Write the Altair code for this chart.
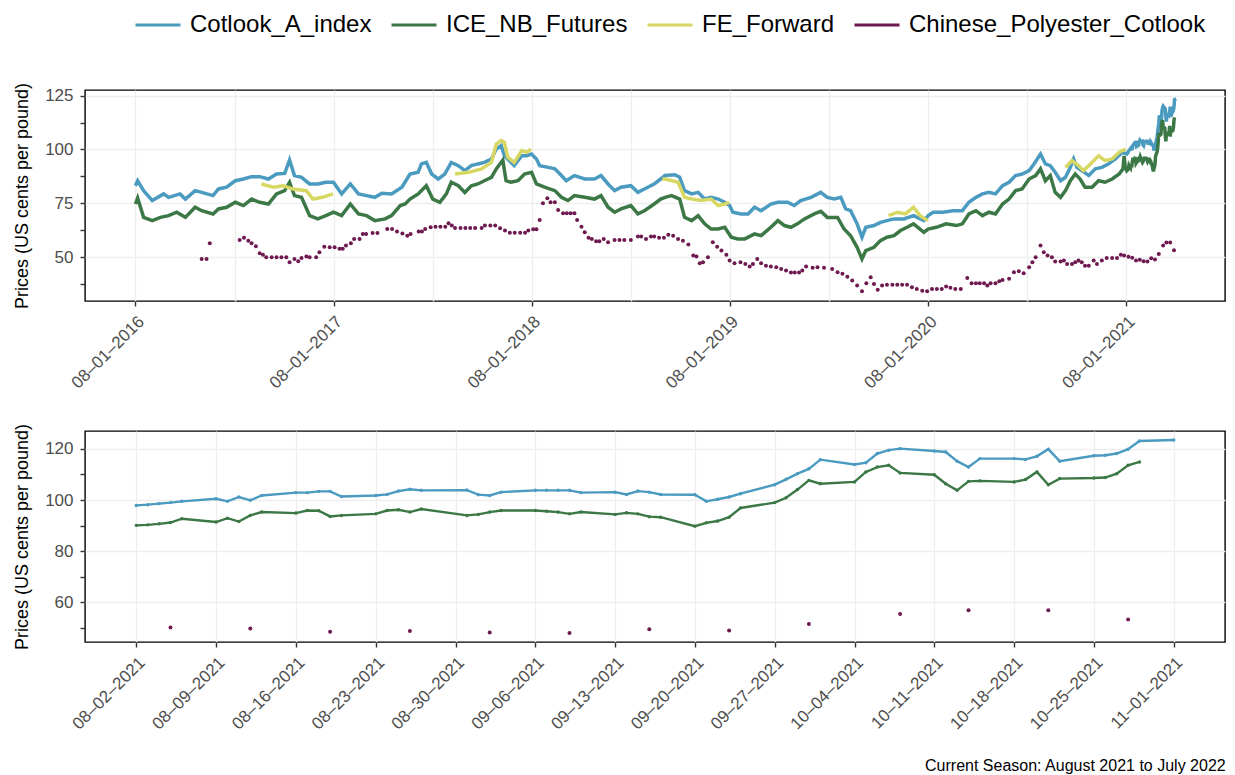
import altair as alt
import pandas as pd

FONT = "Liberation Sans"
SERIES = ["Cotlook_A_index", "ICE_NB_Futures", "FE_Forward", "Chinese_Polyester_Cotlook"]
COLORS = ["#4B9AC0", "#3C7846", "#D7D764", "#6E1950"]
Y_TITLE = "Prices (US cents per pound)"
CAPTION = "Current Season: August 2021 to July 2022"

# ---------------- long-run history ----------------
cotlook_hist_dates = [
    "2016-08-01", "2016-08-05", "2016-08-16", "2016-09-01", "2016-09-22", "2016-10-01",
    "2016-10-22", "2016-11-01", "2016-11-19", "2016-12-01", "2016-12-22", "2017-01-01",
    "2017-01-16", "2017-02-01", "2017-02-16", "2017-03-03", "2017-03-18", "2017-04-03",
    "2017-04-18", "2017-05-03", "2017-05-12", "2017-05-21", "2017-06-03", "2017-06-18",
    "2017-07-03", "2017-07-18", "2017-08-01", "2017-08-16", "2017-09-01", "2017-09-16",
    "2017-10-01", "2017-10-16", "2017-10-29", "2017-11-16", "2017-12-05", "2017-12-20",
    "2018-01-04", "2018-01-10", "2018-01-19", "2018-01-29", "2018-02-10", "2018-02-22",
    "2018-03-06", "2018-03-19", "2018-03-31", "2018-04-12", "2018-04-24", "2018-05-06",
    "2018-05-19", "2018-05-28", "2018-06-06", "2018-06-12", "2018-06-18", "2018-06-30",
    "2018-07-14", "2018-07-23", "2018-08-01", "2018-08-10", "2018-08-16", "2018-09-01",
    "2018-09-13", "2018-09-25", "2018-10-04", "2018-10-19", "2018-11-07", "2018-11-25",
    "2018-12-07", "2018-12-20", "2019-01-01", "2019-01-13", "2019-01-31", "2019-02-13",
    "2019-02-25", "2019-03-15", "2019-03-27", "2019-04-04", "2019-04-22", "2019-05-01",
    "2019-05-10", "2019-05-23", "2019-06-04", "2019-06-16", "2019-06-28", "2019-07-11",
    "2019-07-23", "2019-08-01", "2019-08-07", "2019-08-22", "2019-09-04", "2019-09-16",
    "2019-09-28", "2019-10-16", "2019-10-29", "2019-11-16", "2019-11-28", "2019-12-10",
    "2019-12-29", "2020-01-16", "2020-01-28", "2020-02-10", "2020-02-22", "2020-03-02",
    "2020-03-11", "2020-03-23", "2020-04-01", "2020-04-08", "2020-04-23", "2020-05-05",
    "2020-05-17", "2020-05-30", "2020-06-17", "2020-07-05", "2020-07-24", "2020-08-01",
    "2020-08-10", "2020-08-28", "2020-09-16", "2020-10-03", "2020-10-15", "2020-10-28",
    "2020-11-09", "2020-11-21", "2020-12-03", "2020-12-16", "2020-12-28", "2021-01-09",
    "2021-01-21", "2021-02-03", "2021-02-12", "2021-02-24", "2021-03-05", "2021-03-14",
    "2021-03-23", "2021-04-02", "2021-04-11", "2021-04-20", "2021-04-26", "2021-05-02",
    "2021-05-11", "2021-05-24", "2021-06-05", "2021-06-17", "2021-06-29", "2021-07-12",
    "2021-07-25",
]
cotlook_hist_values = [
    83.2, 85.5, 80.9, 76.3, 79.4, 77.8,
    79.4, 77.0, 80.9, 80.1, 78.6, 81.7,
    82.5, 85.5, 86.3, 87.4, 87.4, 86.3,
    88.6, 88.9, 95.1, 87.9, 87.1, 84.0,
    84.0, 84.8, 84.8, 79.4, 84.0, 79.4,
    78.6, 77.8, 79.7, 79.4, 82.5, 88.6,
    89.4, 93.3, 94.0, 88.6, 86.3, 88.6,
    94.0, 92.5, 90.2, 92.5, 93.3, 94.0,
    95.6, 100.2, 101.8, 97.1, 95.6, 92.5,
    97.1, 97.1, 97.9, 95.6, 92.5, 91.7,
    91.0, 87.9, 85.5, 87.9, 86.3, 86.3,
    87.9, 84.0, 80.9, 82.5, 83.2, 80.1,
    81.7, 84.0, 86.3, 87.9, 88.3, 87.1,
    80.9, 79.4, 80.1, 77.0, 77.8, 77.0,
    75.5, 74.0, 70.9, 70.1, 70.1, 73.2,
    71.6, 74.7, 75.5, 75.5, 74.0, 76.3,
    77.8, 80.1, 77.8, 77.0, 77.8, 72.4,
    71.6, 65.5, 59.3, 63.9, 64.7, 66.2,
    67.0, 67.8, 67.8, 69.3, 67.0, 69.3,
    70.9, 70.9, 71.6, 71.6, 75.5, 77.8,
    79.4, 80.1, 79.4, 83.2, 84.8, 87.9,
    88.6, 90.2, 93.3, 97.9, 93.3, 92.5,
    89.4, 85.5, 87.1, 91.7, 95.6, 91.7,
    90.2, 87.9, 91.0, 91.7, 93.3, 95.6,
    98.7,
]

ice_hist_dates = [
    "2016-08-01", "2016-08-05", "2016-08-16", "2016-09-01", "2016-09-16", "2016-10-01",
    "2016-10-16", "2016-11-01", "2016-11-19", "2016-12-01", "2016-12-22", "2017-01-01",
    "2017-01-16", "2017-02-01", "2017-02-16", "2017-03-03", "2017-03-18", "2017-04-03",
    "2017-04-18", "2017-05-03", "2017-05-12", "2017-05-21", "2017-06-03", "2017-06-18",
    "2017-07-03", "2017-07-18", "2017-08-01", "2017-08-16", "2017-09-01", "2017-09-16",
    "2017-10-01", "2017-10-16", "2017-11-04", "2017-11-16", "2017-12-02", "2017-12-11",
    "2017-12-20", "2018-01-04", "2018-01-19", "2018-01-31", "2018-02-13", "2018-02-25",
    "2018-03-06", "2018-03-19", "2018-03-31", "2018-04-12", "2018-04-24", "2018-05-06",
    "2018-05-19", "2018-05-28", "2018-06-09", "2018-06-15", "2018-06-24", "2018-07-07",
    "2018-07-19", "2018-08-01", "2018-08-10", "2018-08-25", "2018-09-13", "2018-09-25",
    "2018-10-07", "2018-10-19", "2018-11-07", "2018-11-25", "2018-12-07", "2018-12-20",
    "2019-01-01", "2019-01-13", "2019-01-31", "2019-02-13", "2019-02-25", "2019-03-15",
    "2019-03-27", "2019-04-04", "2019-04-16", "2019-05-01", "2019-05-10", "2019-05-23",
    "2019-06-04", "2019-06-16", "2019-06-28", "2019-07-11", "2019-07-23", "2019-08-04",
    "2019-08-16", "2019-08-29", "2019-09-16", "2019-09-28", "2019-10-16", "2019-10-29",
    "2019-11-10", "2019-11-22", "2019-12-04", "2019-12-17", "2020-01-04", "2020-01-16",
    "2020-01-28", "2020-02-16", "2020-02-28", "2020-03-11", "2020-03-23", "2020-04-01",
    "2020-04-08", "2020-04-23", "2020-05-05", "2020-05-17", "2020-05-30", "2020-06-11",
    "2020-06-23", "2020-07-05", "2020-07-24", "2020-08-01", "2020-08-16", "2020-09-03",
    "2020-09-22", "2020-10-03", "2020-10-15", "2020-10-28", "2020-11-09", "2020-11-21",
    "2020-12-03", "2020-12-16", "2020-12-28", "2021-01-09", "2021-01-21", "2021-02-03",
    "2021-02-15", "2021-02-24", "2021-03-05", "2021-03-14", "2021-03-23", "2021-04-02",
    "2021-04-11", "2021-04-20", "2021-04-29", "2021-05-08", "2021-05-17", "2021-05-30",
    "2021-06-11", "2021-06-23", "2021-07-06", "2021-07-19", "2021-07-26", "2021-07-28",
    "2021-07-30",
]
ice_hist_values = [
    74.7, 77.5, 68.5, 67.0, 68.5, 69.3,
    70.9, 68.5, 73.2, 71.6, 70.1, 72.4,
    73.2, 75.5, 74.0, 77.0, 75.5, 74.7,
    79.4, 80.9, 84.8, 78.6, 77.8, 69.3,
    67.8, 69.3, 70.9, 69.3, 74.7, 70.1,
    69.3, 67.0, 67.8, 69.3, 74.0, 74.7,
    77.0, 79.4, 83.2, 77.0, 75.5, 79.4,
    84.8, 83.2, 80.1, 83.2, 84.0, 85.5,
    87.1, 91.0, 95.1, 85.5, 84.8, 85.5,
    88.6, 89.4, 84.0, 82.5, 80.9, 77.8,
    76.3, 78.6, 77.8, 77.0, 78.6, 73.2,
    70.9, 72.4, 74.0, 70.1, 71.6, 74.7,
    77.0, 77.8, 78.6, 77.0, 68.5, 67.0,
    69.3, 65.5, 63.1, 63.1, 63.9, 59.3,
    58.5, 58.5, 60.8, 60.0, 63.9, 67.0,
    64.7, 63.9, 65.5, 67.8, 70.1, 71.3,
    68.5, 68.5, 63.1, 60.0, 54.6, 49.2,
    53.1, 54.6, 57.7, 59.3, 60.0, 62.4,
    63.9, 65.5, 61.6, 63.1, 63.9, 65.5,
    64.7, 65.5, 70.1, 71.6, 69.3, 70.9,
    70.1, 74.7, 77.0, 80.9, 81.7, 86.3,
    87.9, 91.0, 85.5, 87.9, 80.1, 77.8,
    80.9, 85.5, 88.6, 86.3, 82.5, 82.5,
    85.5, 84.8, 86.3, 88.6, 91.0, 97.0,
    92.0,
]

fe_season = (["2017"] * 8 + ["2018"] * 12 + ["2019"] * 10 + ["2020"] * 6 + ["2021"] * 10)
fe_dates = [
    "2017-03-21", "2017-04-12", "2017-04-30", "2017-05-18", "2017-06-12", "2017-06-24",
    "2017-07-12", "2017-07-31",
    "2018-03-13", "2018-04-07", "2018-05-01", "2018-05-19", "2018-05-28", "2018-06-06",
    "2018-06-12", "2018-06-18", "2018-06-30", "2018-07-14", "2018-07-23", "2018-07-31",
    "2019-03-30", "2019-04-04", "2019-04-28", "2019-05-10", "2019-05-23", "2019-06-10",
    "2019-06-28", "2019-07-11", "2019-07-23", "2019-07-31",
    "2020-05-20", "2020-06-05", "2020-06-20", "2020-07-05", "2020-07-17", "2020-07-31",
    "2021-04-11", "2021-04-23", "2021-05-05", "2021-05-14", "2021-05-27", "2021-06-11",
    "2021-06-23", "2021-07-06", "2021-07-19", "2021-07-31",
]
fe_values = [
    84.0, 82.5, 83.2, 81.7, 80.9, 77.0, 77.8, 79.4,
    88.6, 89.4, 91.0, 94.0, 102.5, 104.1, 103.3, 96.4, 94.0, 99.5, 98.7, 100.2,
    86.3, 86.3, 84.8, 77.8, 77.0, 76.3, 77.0, 74.0, 74.7, 75.5,
    69.3, 70.9, 70.1, 73.2, 69.3, 67.0,
    91.7, 94.8, 92.5, 90.2, 93.3, 97.1, 94.8, 95.6, 98.7, 100.2,
]

poly_hist_dates = [
    "2016-12-01", "2016-12-10", "2016-12-16", "2017-02-09", "2017-02-17", "2017-02-25",
    "2017-03-03", "2017-03-11", "2017-03-18", "2017-03-24", "2017-03-30", "2017-04-09",
    "2017-04-18", "2017-04-27", "2017-05-06", "2017-05-12", "2017-05-21", "2017-05-28",
    "2017-06-03", "2017-06-12", "2017-06-18", "2017-06-30", "2017-07-06", "2017-07-15",
    "2017-07-25", "2017-08-03", "2017-08-12", "2017-08-18", "2017-08-24", "2017-09-02",
    "2017-09-08", "2017-09-18", "2017-09-24", "2017-09-30", "2017-10-12", "2017-10-21",
    "2017-11-08", "2017-11-17", "2017-11-26", "2017-12-06", "2017-12-15", "2017-12-21",
    "2018-01-05", "2018-01-11", "2018-01-17", "2018-01-27", "2018-02-05", "2018-02-14",
    "2018-02-23", "2018-03-01", "2018-03-07", "2018-03-13", "2018-03-23", "2018-04-01",
    "2018-04-10", "2018-04-19", "2018-05-01", "2018-05-07", "2018-05-17", "2018-05-26",
    "2018-06-04", "2018-06-13", "2018-06-22", "2018-07-01", "2018-07-11", "2018-07-20",
    "2018-07-26", "2018-08-04", "2018-08-10", "2018-08-16", "2018-08-22", "2018-08-30",
    "2018-09-05", "2018-09-13", "2018-09-19", "2018-09-28", "2018-10-05", "2018-10-12",
    "2018-10-19", "2018-10-24", "2018-11-01", "2018-11-07", "2018-11-14", "2018-11-20",
    "2018-11-28", "2018-12-04", "2018-12-12", "2018-12-20", "2019-01-01", "2019-01-10",
    "2019-01-19", "2019-01-31", "2019-02-13", "2019-02-19", "2019-02-28", "2019-03-09",
    "2019-03-15", "2019-03-24", "2019-04-02", "2019-04-10", "2019-04-19", "2019-04-28",
    "2019-05-07", "2019-05-17", "2019-05-26", "2019-06-01", "2019-06-07", "2019-06-13",
    "2019-06-22", "2019-07-01", "2019-07-09", "2019-07-17", "2019-07-26", "2019-08-01",
    "2019-08-10", "2019-08-21", "2019-08-30", "2019-09-07", "2019-09-13", "2019-09-21",
    "2019-09-28", "2019-10-07", "2019-10-16", "2019-10-26", "2019-11-04", "2019-11-13",
    "2019-11-22", "2019-11-29", "2019-12-07", "2019-12-13", "2019-12-20", "2020-01-01",
    "2020-01-10", "2020-01-22", "2020-02-06", "2020-02-16", "2020-02-25", "2020-03-05",
    "2020-03-14", "2020-03-23", "2020-04-01", "2020-04-09", "2020-04-17", "2020-04-23",
    "2020-04-30", "2020-05-08", "2020-05-17", "2020-05-27", "2020-06-05", "2020-06-14",
    "2020-06-23", "2020-07-02", "2020-07-11", "2020-07-21", "2020-07-30", "2020-08-08",
    "2020-08-17", "2020-08-26", "2020-09-03", "2020-09-11", "2020-09-20", "2020-09-30",
    "2020-10-12", "2020-10-20", "2020-10-28", "2020-11-04", "2020-11-12", "2020-11-18",
    "2020-11-24", "2020-12-03", "2020-12-10", "2020-12-16", "2020-12-28", "2021-01-06",
    "2021-01-15", "2021-01-24", "2021-02-03", "2021-02-09", "2021-02-15", "2021-02-24",
    "2021-03-02", "2021-03-09", "2021-03-17", "2021-03-23", "2021-04-02", "2021-04-08",
    "2021-04-14", "2021-04-23", "2021-04-29", "2021-05-05", "2021-05-11", "2021-05-17",
    "2021-05-24", "2021-06-02", "2021-06-08", "2021-06-17", "2021-06-26", "2021-07-06",
    "2021-07-15", "2021-07-22", "2021-07-28",
]
poly_hist_values = [
    49.2, 49.2, 56.5, 58.0, 59.0, 57.7,
    56.5, 55.1, 51.9, 51.2, 50.0, 50.0,
    50.0, 50.0, 50.0, 47.7, 49.2, 48.1,
    49.7, 50.3, 50.0, 50.0, 52.3, 54.9,
    54.6, 54.6, 53.9, 53.9, 55.4, 56.5,
    58.5, 58.5, 60.8, 60.8, 61.3, 61.3,
    63.1, 63.1, 62.0, 61.0, 60.0, 60.8,
    61.9, 61.9, 63.1, 63.9, 64.2, 64.2,
    64.2, 65.8, 64.7, 63.6, 63.6, 63.6,
    63.6, 63.6, 63.6, 64.7, 64.7, 64.7,
    63.4, 62.4, 61.4, 61.4, 61.4, 61.4,
    62.4, 63.0, 63.0, 67.3, 75.0, 77.4,
    75.5, 75.5, 71.9, 70.4, 70.4, 70.4,
    70.4, 67.3, 64.2, 61.6, 59.0, 58.5,
    57.4, 57.4, 58.5, 57.0, 58.0, 58.0,
    58.0, 58.0, 59.6, 59.6, 58.5, 59.6,
    59.6, 59.0, 59.0, 60.4, 60.0, 58.5,
    57.7, 55.9, 50.8, 50.3, 47.2, 47.7,
    50.0, 57.0, 54.9, 53.1, 51.2, 48.5,
    47.2, 47.7, 46.9, 45.7, 46.9, 49.2,
    47.2, 46.1, 45.7, 45.4, 44.6, 43.8,
    42.9, 42.9, 42.9, 43.8, 45.7, 45.1,
    45.4, 45.1, 44.6, 43.0, 42.3, 41.0,
    39.2, 36.9, 34.2, 37.9, 40.7, 37.6,
    34.9, 36.9, 37.2, 37.2, 37.2, 37.2,
    37.2, 36.1, 35.3, 34.5, 34.2, 35.3,
    35.3, 35.3, 36.4, 35.8, 35.3, 35.3,
    40.4, 37.9, 37.9, 37.9, 37.9, 36.9,
    37.9, 37.9, 38.9, 39.5, 40.0, 43.0,
    43.5, 42.6, 45.4, 47.7, 50.0, 55.4,
    52.3, 50.8, 50.0, 48.0, 48.0, 48.5,
    46.9, 46.9, 47.7, 48.5, 47.7, 46.1,
    46.1, 48.5, 46.9, 48.5, 49.7, 49.7,
    49.7, 51.2, 50.8,
]

# ---------------- current season ----------------
cs_dates = [
    "2021-08-02", "2021-08-03", "2021-08-04", "2021-08-05", "2021-08-06",
    "2021-08-09", "2021-08-10", "2021-08-11", "2021-08-12", "2021-08-13",
    "2021-08-16", "2021-08-17", "2021-08-18", "2021-08-19", "2021-08-20",
    "2021-08-23", "2021-08-24", "2021-08-25", "2021-08-26", "2021-08-27",
    "2021-08-31", "2021-09-01", "2021-09-02", "2021-09-03",
    "2021-09-06", "2021-09-07", "2021-09-08", "2021-09-09", "2021-09-10",
    "2021-09-13", "2021-09-14", "2021-09-15", "2021-09-16", "2021-09-17",
    "2021-09-20", "2021-09-21", "2021-09-22", "2021-09-23", "2021-09-24",
    "2021-09-27", "2021-09-28", "2021-09-29", "2021-09-30", "2021-10-01",
    "2021-10-04", "2021-10-05", "2021-10-06", "2021-10-07", "2021-10-08",
    "2021-10-11", "2021-10-12", "2021-10-13", "2021-10-14", "2021-10-15",
    "2021-10-18", "2021-10-19", "2021-10-20", "2021-10-21", "2021-10-22",
    "2021-10-25", "2021-10-26", "2021-10-27", "2021-10-28", "2021-10-29",
    "2021-11-01",
]
cs_cotlook = [
    97.9, 98.2, 98.6, 99.0, 99.5,
    100.5, 99.5, 101.2, 99.9, 101.8,
    102.9, 102.9, 103.4, 103.4, 101.4,
    101.8, 102.2, 103.5, 104.2, 103.8,
    103.9, 102.1, 101.8, 103.1,
    103.8, 103.8, 103.8, 103.8, 102.9,
    103.1, 102.2, 103.5, 103.1, 102.2,
    102.1, 99.5, 100.3, 101.2, 102.5,
    106.0, 108.1, 110.3, 112.2, 115.8,
    113.9, 114.6, 118.2, 119.5, 120.1,
    119.2, 118.8, 115.2, 112.9, 116.2,
    116.2, 115.9, 117.1, 119.9, 115.2,
    117.3, 117.5, 118.2, 119.9, 123.1,
    123.5,
]
cs_ice = [
    90.1, 90.3, 90.7, 91.2, 92.7,
    91.4, 92.9, 91.6, 94.0, 95.3,
    94.9, 95.9, 95.8, 93.6, 94.0,
    94.6, 95.9, 96.2, 95.3, 96.5,
    94.0, 94.4, 95.3, 95.9,
    95.9, 95.6, 95.3, 94.6, 95.3,
    94.4, 95.0, 94.6, 93.5, 93.3,
    89.8, 91.1, 91.8, 93.3, 96.9,
    99.0, 100.9, 104.1, 107.7, 106.4,
    107.1, 111.0, 112.9, 113.6, 110.6,
    109.9, 106.4, 103.8, 107.3, 107.5,
    107.1, 108.0, 111.0, 106.0, 108.4,
    108.6, 108.8, 110.3, 113.6, 114.9,
]
cs_poly_dates = [
    "2021-08-05", "2021-08-12", "2021-08-19", "2021-08-26", "2021-09-02", "2021-09-09",
    "2021-09-16", "2021-09-23", "2021-09-30", "2021-10-08", "2021-10-14", "2021-10-21",
    "2021-10-28",
]
cs_poly = [50.2, 49.8, 48.5, 48.8, 48.2, 48.0, 49.5, 49.0, 51.5, 55.4, 56.9, 56.9, 53.3]

# ---------------- axes ----------------
top_x_domain = ["2016-04-30", "2022-01-30"]
top_x_major = ["2016-08-01", "2017-08-01", "2018-08-01", "2019-08-01", "2020-08-01", "2021-08-01"]
top_x_minor = ["2017-01-31", "2018-01-31", "2019-01-31", "2020-01-31", "2021-01-31"]
top_y_domain = [29.7, 127.6]
top_y_ticks = [37.5, 50, 62.5, 75, 87.5, 100, 112.5, 125]

bot_x_domain = ["2021-07-28 12:00", "2021-11-05 12:00"]
bot_x_ticks = ["2021-08-02", "2021-08-09", "2021-08-16", "2021-08-23", "2021-08-30",
               "2021-09-06", "2021-09-13", "2021-09-20", "2021-09-27", "2021-10-04",
               "2021-10-11", "2021-10-18", "2021-10-25", "2021-11-01"]
bot_y_domain = [44.5, 127.0]
bot_y_ticks = [50, 60, 70, 80, 90, 100, 110, 120]

PANEL_W, PANEL_H = 1140, 211


def dt(s):
    t = pd.Timestamp(s)
    return alt.DateTime(year=t.year, month=t.month, date=t.day, hours=t.hour, utc=True)


def frame(series, dates, values, seg=None):
    return pd.DataFrame({"series": series, "date": list(dates), "value": list(values),
                         "seg": seg if seg is not None else series})


top_lines = pd.concat([
    frame("Cotlook_A_index", cotlook_hist_dates + cs_dates, cotlook_hist_values + cs_cotlook),
    frame("ICE_NB_Futures", ice_hist_dates + cs_dates[:-1], ice_hist_values + cs_ice),
    frame("FE_Forward", fe_dates, fe_values, ["FE_" + s for s in fe_season]),
], ignore_index=True)
top_poly = frame("Chinese_Polyester_Cotlook", poly_hist_dates + cs_poly_dates, poly_hist_values + cs_poly)

bot_lines = pd.concat([
    frame("Cotlook_A_index", cs_dates, cs_cotlook),
    frame("ICE_NB_Futures", cs_dates[:-1], cs_ice),
], ignore_index=True)
bot_poly = frame("Chinese_Polyester_Cotlook", cs_poly_dates, cs_poly)

legend = alt.Legend(
    title=None, orient="none", direction="horizontal", columns=4,
    legendX=49, legendY=-89, padding=0,
    symbolType="stroke", symbolSize=2025, symbolStrokeWidth=3, symbolOpacity=1,
    labelFontSize=24, labelFont=FONT, labelColor="black", labelOffset=8, labelLimit=0,
    columnPadding=13,
)
color = alt.Color("series:N", scale=alt.Scale(domain=SERIES, range=COLORS), legend=legend)

major_test_top = "utcmonth(datum.value) == 7"
x_top = alt.X(
    "date:T",
    scale=alt.Scale(type="utc", domain=[dt(d) for d in top_x_domain]),
    axis=alt.Axis(
        values=[dt(d) for d in top_x_major + top_x_minor],
        format="%m\u2013%d\u2013%Y", labelExpr=f"{major_test_top} ? datum.label : ''",
        tickOpacity={"condition": {"test": major_test_top, "value": 1}, "value": 0},
        labelAngle=-45, labelOverlap=False, labelFlush=False, title=None,
    ),
)
y_top = alt.Y(
    "value:Q",
    scale=alt.Scale(domain=top_y_domain, nice=False, zero=False),
    axis=alt.Axis(
        values=top_y_ticks, format="d", title=Y_TITLE,
        labelExpr="datum.value % 25 == 0 ? datum.label : ''",
        gridOpacity={"condition": {"test": "datum.value % 25 == 0", "value": 1}, "value": 0},
    ),
)

top = alt.layer(
    alt.Chart(top_lines).mark_line(strokeWidth=3.5).encode(
        x=x_top, y=y_top, color=color, detail="seg:N"),
    alt.Chart(top_poly).mark_circle(size=16, opacity=1).encode(
        x=x_top, y=y_top, color=color),
).properties(width=PANEL_W, height=PANEL_H)

x_bot = alt.X(
    "date:T",
    scale=alt.Scale(type="utc", domain=[dt(d) for d in bot_x_domain]),
    axis=alt.Axis(values=[dt(d) for d in bot_x_ticks], format="%m\u2013%d\u2013%Y",
                  labelAngle=-45, labelOverlap=False, labelFlush=False, title=None),
)
y_bot = alt.Y(
    "value:Q",
    scale=alt.Scale(domain=bot_y_domain, nice=False, zero=False),
    axis=alt.Axis(
        values=bot_y_ticks, format="d", title=Y_TITLE,
        labelExpr="datum.value % 20 == 0 ? datum.label : ''",
        gridOpacity={"condition": {"test": "datum.value % 20 == 0", "value": 1}, "value": 0},
    ),
)

bottom = alt.layer(
    alt.Chart(bot_lines).mark_line(
        strokeWidth=2.4, point=alt.OverlayMarkDef(size=12, filled=True, opacity=1)
    ).encode(x=x_bot, y=y_bot, color=color),
    alt.Chart(bot_poly).mark_circle(size=16, opacity=1).encode(x=x_bot, y=y_bot, color=color),
).properties(width=PANEL_W, height=PANEL_H)

chart = alt.vconcat(top, bottom, spacing=30).properties(
    title=alt.TitleParams(CAPTION, orient="bottom", anchor="end", fontSize=16,
                          fontWeight="normal", font=FONT, color="black", offset=25),
    padding={"left": 4, "top": -7, "right": 0, "bottom": 0},
).configure(font=FONT).configure_view(
    stroke="black", strokeWidth=1.4
).configure_axis(
    labelFont=FONT, labelFontSize=17, labelColor="#4D4D4D", labelPadding=7,
    tickColor="#333333", tickSize=5, tickWidth=1.4, domain=False,
    gridColor="#EEEEEE", gridWidth=1.4,
    titleFont=FONT, titleFontSize=18, titleFontWeight="normal", titleColor="black",
    titlePadding=13,
)

chart.save("out.html", embed_options={"renderer": "svg", "actions": False})
